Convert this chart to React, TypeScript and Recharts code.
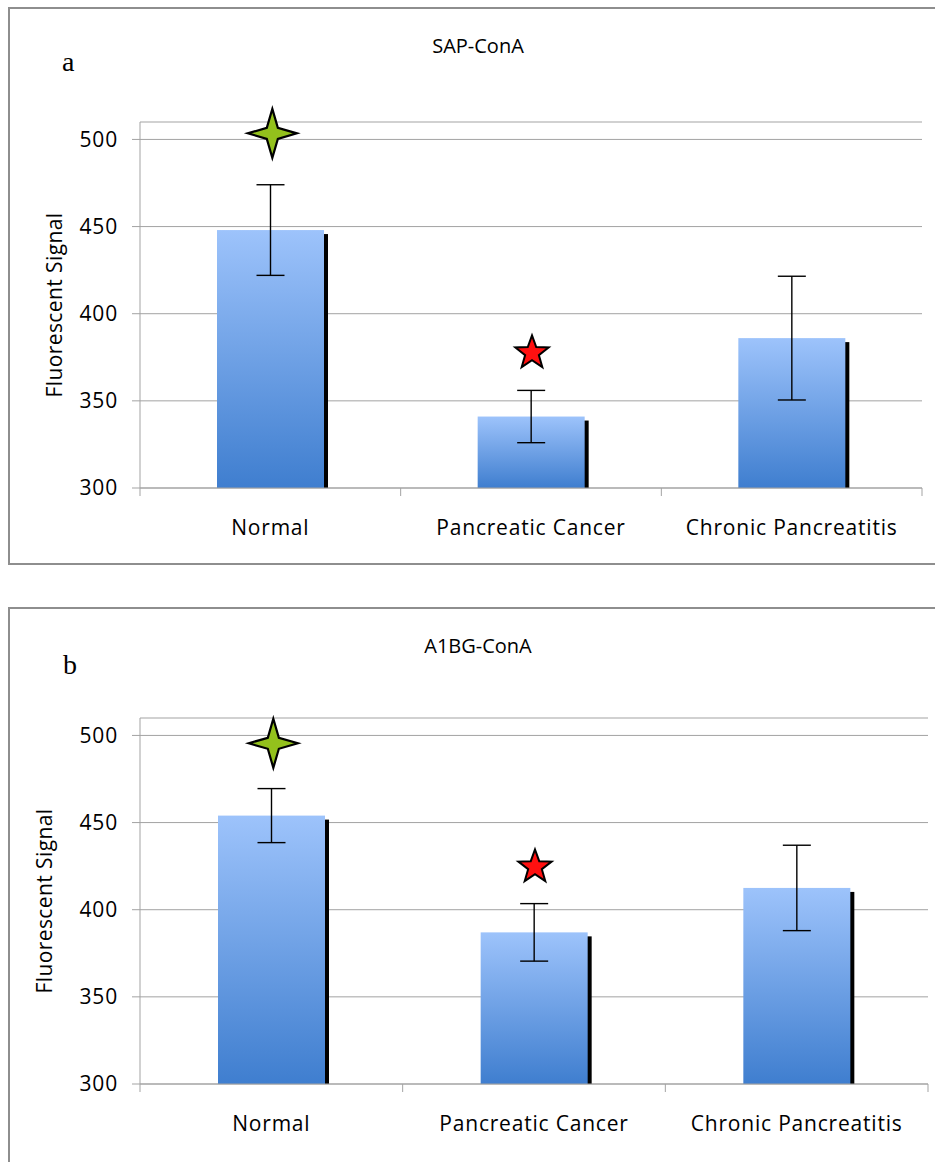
import React from 'react';
import { ComposedChart, Bar, Line, XAxis, YAxis, CartesianGrid, ErrorBar } from 'recharts';

const categories = ['Normal', 'Pancreatic Cancer', 'Chronic Pancreatitis'];
const yTicks = [300, 350, 400, 450, 500];

// panel a: SAP-ConA
const sapMeans = [448, 341, 386];
const sapErrors = [26, 15, 35.5];
const sapGreenStar = [503.5, null, null];
const sapRedStar = [null, 377.5, null];

// panel b: A1BG-ConA
const a1bgMeans = [454, 387, 412.5];
const a1bgErrors = [15.5, 16.5, 24.5];
const a1bgGreenStar = [495.5, null, null];
const a1bgRedStar = [null, 424.5, null];

const FONT = '"Open Sans", sans-serif';
const AXIS_GRAY = '#a3a3a3';

const buildRows = (means: number[], errs: number[], green: (number | null)[], red: (number | null)[]) =>
  categories.map((name, i) => ({ name, mean: means[i], err: errs[i], green: green[i], red: red[i] }));

function starPath(cx: number, cy: number, n: number, R: number, r: number) {
  const pts: string[] = [];
  for (let i = 0; i < n * 2; i++) {
    const rad = i % 2 === 0 ? R : r;
    const a = -Math.PI / 2 + (i * Math.PI) / n;
    pts.push(`${(cx + rad * Math.cos(a)).toFixed(2)},${(cy + rad * Math.sin(a)).toFixed(2)}`);
  }
  return `M${pts.join('L')}Z`;
}

const greenDot = (p: any) => {
  if (p.value == null || p.cy == null) return <g key={`gs${p.index}`} />;
  return (
    <path
      key={`gs${p.index}`}
      d={starPath(p.cx + 2, p.cy, 4, 24.5, 7.8)}
      fill="#93c11c"
      stroke="#000"
      strokeWidth={2.2}
    />
  );
};

const redDot = (p: any) => {
  if (p.value == null || p.cy == null) return <g key={`rs${p.index}`} />;
  return <path key={`rs${p.index}`} d={starPath(p.cx + 1, p.cy, 5, 17.5, 7.2)} fill="#ff1010" stroke="#000" strokeWidth={2} />;
};

const makeBarShape = (gradId: string) => (p: any) => {
  const { x, y, width, height } = p;
  return (
    <g>
      <rect x={x + 4} y={y + 4} width={width} height={Math.max(height - 4, 0)} fill="#000" />
      <rect x={x} y={y} width={width} height={height} fill={`url(#${gradId})`} />
    </g>
  );
};

const makeTick = (bw: number) => (p: any) => {
  const { x, y, payload, index } = p;
  return (
    <g>
      <line x1={x - bw / 2} x2={x - bw / 2} y1={y} y2={y + 8} stroke={AXIS_GRAY} />
      {index === categories.length - 1 && (
        <line x1={x + bw / 2} x2={x + bw / 2} y1={y} y2={y + 8} stroke={AXIS_GRAY} />
      )}
      <text x={x} y={y + 47} textAnchor="middle" fill="#000" fontSize={21} fontFamily={FONT} letterSpacing={0.8}>
        {payload.value}
      </text>
    </g>
  );
};

interface PanelProps {
  id: string;
  rows: any[];
  top: number;
  height: number;
  marginTop: number;
  marginRight: number;
  xAxisHeight: number;
  labelX: number;
}

const Panel = ({ id, rows, top, height, marginTop, marginRight, xAxisHeight, labelX }: PanelProps) => {
  const width = 935;
  const bw = (width - marginRight - 140) / 3;
  return (
    <div style={{ position: 'absolute', left: 0, top }}>
      <ComposedChart
        width={width}
        height={height}
        data={rows}
        margin={{ top: marginTop, right: marginRight, bottom: 0, left: 0 }}
        barSize={107}
      >
        <defs>
          <linearGradient id={id} x1="0" y1="0" x2="0" y2="1">
            <stop offset="0%" stopColor="#9dc3fb" />
            <stop offset="100%" stopColor="#3f7ecf" />
          </linearGradient>
        </defs>
        <CartesianGrid vertical={false} stroke={AXIS_GRAY} />
        <XAxis
          dataKey="name"
          height={xAxisHeight}
          tickLine={false}
          tickSize={0}
          tickMargin={0}
          axisLine={{ stroke: AXIS_GRAY }}
          tick={makeTick(bw)}
          interval={0}
        />
        <YAxis
          width={140}
          domain={[300, 510]}
          ticks={yTicks}
          interval={0}
          tickSize={8}
          tickMargin={14}
          axisLine={{ stroke: AXIS_GRAY }}
          tickLine={{ stroke: AXIS_GRAY }}
          tick={{ fill: '#000', fontSize: 21, fontFamily: FONT, letterSpacing: 0.8 }}
          label={{
            content: (lp: any) => {
              const vb = lp.viewBox;
              const cy = vb.y + vb.height / 2;
              return (
                <text
                  x={labelX}
                  y={cy}
                  transform={`rotate(-90 ${labelX} ${cy})`}
                  textAnchor="middle"
                  dominantBaseline="central"
                  fill="#000"
                  fontSize={21}
                  fontFamily={FONT}
                  letterSpacing={0.4}
                >
                  Fluorescent Signal
                </text>
              );
            },
          }}
        />
        <Bar dataKey="mean" isAnimationActive={false} shape={makeBarShape(id)}>
          <ErrorBar dataKey="err" width={14} stroke="#000" strokeWidth={1.4} direction="y" isAnimationActive={false} />
        </Bar>
        <Line dataKey="green" stroke="none" dot={greenDot} activeDot={false} isAnimationActive={false} legendType="none" />
        <Line dataKey="red" stroke="none" dot={redDot} activeDot={false} isAnimationActive={false} legendType="none" />
      </ComposedChart>
    </div>
  );
};

const textStyle = (extra: React.CSSProperties): React.CSSProperties => ({
  position: 'absolute',
  whiteSpace: 'nowrap',
  lineHeight: 1,
  ...extra,
});

export default function App() {
  const sapRows = buildRows(sapMeans, sapErrors, sapGreenStar, sapRedStar);
  const a1bgRows = buildRows(a1bgMeans, a1bgErrors, a1bgGreenStar, a1bgRedStar);
  return (
    <div style={{ position: 'absolute', left: 0, top: 0, width: 935, height: 1162, overflow: 'hidden', background: '#fff' }}>
      <div style={{ position: 'absolute', left: 8, top: 7, width: 960, height: 558, border: '2px solid #8e8e8e', boxSizing: 'border-box' }} />
      <div style={{ position: 'absolute', left: 8, top: 607, width: 960, height: 600, border: '2px solid #8e8e8e', boxSizing: 'border-box' }} />

      <Panel id="gradA" rows={sapRows} top={0} height={565} marginTop={122} marginRight={13} xAxisHeight={77} labelX={54} />
      <Panel id="gradB" rows={a1bgRows} top={600} height={562} marginTop={118} marginRight={7} xAxisHeight={78} labelX={44} />

      <div style={textStyle({ left: 0, width: 956, top: 36, textAlign: 'center', fontFamily: FONT, fontSize: 20 })}>SAP-ConA</div>
      <div style={textStyle({ left: 0, width: 956, top: 636, textAlign: 'center', fontFamily: FONT, fontSize: 20 })}>A1BG-ConA</div>
      <div style={textStyle({ left: 62, top: 48, fontFamily: '"Liberation Serif", serif', fontSize: 28 })}>a</div>
      <div style={textStyle({ left: 63, top: 651, fontFamily: '"Liberation Serif", serif', fontSize: 28 })}>b</div>
    </div>
  );
}
